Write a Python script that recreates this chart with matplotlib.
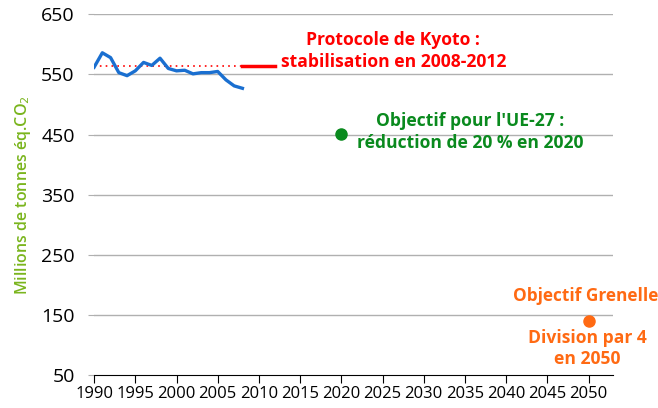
import matplotlib.pyplot as plt

# émissions France (Mt éq. CO2)
annees = list(range(1990, 2009))
emissions = [562, 586, 578, 553, 548, 556, 570, 565, 577, 560, 556, 557,
             551, 553, 553, 555, 541, 531, 527]

kyoto_niveau = 564
kyoto_annees = [2008, 2012]
ue_annee = 2020
ue_objectif = 451
grenelle_annee = 2050
grenelle_objectif = 141

x_ticks = list(range(1990, 2051, 5))
y_ticks = list(range(50, 651, 100))

plt.rcParams['font.family'] = ['Open Sans', 'DejaVu Sans']

fig = plt.figure(figsize=(6.58, 4.08), dpi=100)
ax = fig.add_axes([0.143, 0.08, 0.789, 0.885])

for y in y_ticks[1:]:
    ax.axhline(y, color='#b0b0b0', lw=1, zorder=0)

ax.plot(annees, emissions, color='#1a6fd0', lw=2.4, zorder=3)
ax.plot([annees[0], annees[-1]], [kyoto_niveau, kyoto_niveau], color='red',
        lw=1.2, ls=(0, (1, 2.5)), zorder=2)
ax.plot(kyoto_annees, [kyoto_niveau, kyoto_niveau], color='red', lw=2.5)
ax.plot(ue_annee, ue_objectif, 'o', color='#0a8a1e', ms=8)
ax.plot(grenelle_annee, grenelle_objectif, 'o', color='#ff6a13', ms=8)

ax.text(2026.3, 589, 'Protocole de Kyoto :\nstabilisation en 2008-2012',
        color='red', fontsize=12.6, fontweight='bold', ha='center', va='center',
        linespacing=1.25)
ax.text(2035.6, 454, "Objectif pour l'UE-27 :\nréduction de 20 % en 2020",
        color='#0a8a1e', fontsize=12.6, fontweight='bold', ha='center', va='center',
        linespacing=1.25)
ax.text(2049.6, 182, 'Objectif Grenelle', color='#ff6a13', fontsize=12.4,
        fontweight='bold', ha='center', va='center')
ax.text(2049.8, 95, 'Division par 4\nen 2050', color='#ff6a13', fontsize=12.6,
        fontweight='bold', ha='center', va='center', linespacing=1.2)

ax.set_xlim(1990, 2053)
ax.set_ylim(50, 650)
ax.set_xticks(x_ticks)
ax.set_yticks(y_ticks)
ax.tick_params(axis='x', labelsize=12, length=6, color='black', pad=2)
ax.tick_params(axis='y', labelsize=14, length=4, color='#b0b0b0', pad=10)

for s in ['top', 'right', 'left']:
    ax.spines[s].set_visible(False)
ax.spines['bottom'].set_color('black')

ax.set_ylabel('Millions de tonnes éq.CO$_2$', color='#7ab51d', fontsize=11.5,
              fontweight='semibold', labelpad=6)

fig.savefig('out.png', dpi=100)
